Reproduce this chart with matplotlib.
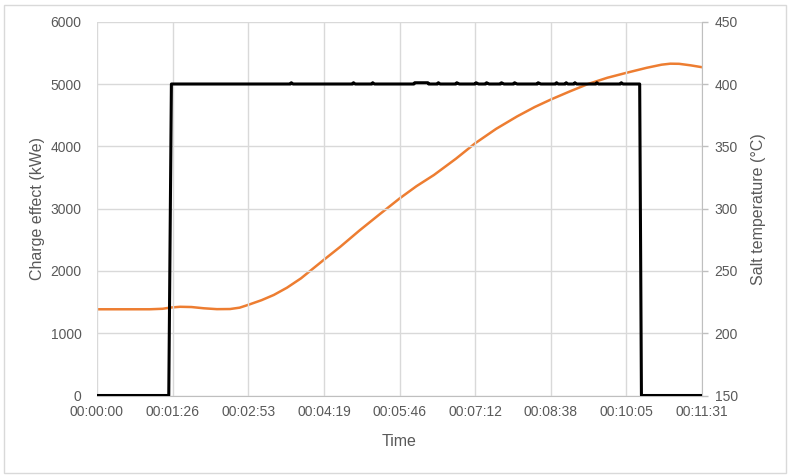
import numpy as np
import matplotlib
matplotlib.use("Agg")
import matplotlib.pyplot as plt
from matplotlib.patches import Rectangle

# charge effect (kWe) vs time in seconds
charge_t = [0, 82, 85, 221, 222, 224, 292, 293, 295, 314, 315, 317, 362, 363, 378, 379,
            389, 390, 392, 410, 411, 414, 432, 433, 436, 444, 445, 448, 461, 462, 465,
            476, 477, 480, 503, 504, 507, 524, 525, 527, 535, 536, 538, 545, 546, 548,
            570, 571, 573, 598, 599, 601, 620, 622, 691]
charge_kw = [0, 0, 5000, 5000, 5020, 5000, 5000, 5020, 5000, 5000, 5020, 5000, 5000, 5020, 5020, 5000,
             5000, 5020, 5000, 5000, 5020, 5000, 5000, 5020, 5000, 5000, 5020, 5000, 5000, 5020, 5000,
             5000, 5020, 5000, 5000, 5020, 5000, 5000, 5020, 5000, 5000, 5020, 5000, 5000, 5020, 5000,
             5000, 5020, 5000, 5000, 5020, 5000, 5000, 0, 0]

# salt temperature (degC) vs time in seconds
salt_t = [0, 20, 40, 60, 75, 84, 95, 108, 122, 137, 152, 163, 173, 188, 202, 217, 233,
          259, 278, 300, 323, 346, 365, 385, 410, 432, 456, 480, 500, 519, 540, 561,
          583, 605, 628, 645, 655, 665, 678, 691]
salt_temp = [219.2, 219.2, 219.2, 219.2, 219.6, 220.6, 221.2, 221.0, 220.0, 219.3, 219.4, 220.5,
             222.8, 226.5, 230.7, 236.5, 244.0, 258.8, 269.4, 282.5, 295.5, 308.3, 318.0, 327.0,
             340.0, 352.4, 364.0, 374.0, 381.5, 387.7, 394.0, 400.0, 405.0, 409.0, 413.0, 415.5,
             416.3, 416.2, 415.0, 413.5]

tick_secs = [0, 86.4, 172.8, 259.2, 345.6, 432.0, 518.4, 604.8, 691.2]
tick_labels = ["00:00:00", "00:01:26", "00:02:53", "00:04:19", "00:05:46",
               "00:07:12", "00:08:38", "00:10:05", "00:11:31"]

grey = "#595959"
grid = "#d9d9d9"
plt.rcParams['font.family'] = ['Liberation Sans', 'DejaVu Sans']

W, H = 789, 476
fig = plt.figure(figsize=(W / 100, H / 100), dpi=100)
ax = fig.add_axes([97 / W, 1 - 395.5 / H, 605 / W, 373.8 / H])
ax2 = ax.twinx()

ax.plot(charge_t, charge_kw, color="black", lw=2.2, zorder=3)
ax2.plot(salt_t, salt_temp, color="#ed7d31", lw=1.8, zorder=3)

ax.set_xlim(0, 691.2)
ax.set_ylim(0, 6000)
ax2.set_ylim(150, 450)
ax.set_xticks(tick_secs)
ax.set_xticklabels(tick_labels)
ax.set_yticks(np.arange(0, 6001, 1000))
ax2.set_yticks(np.arange(150, 451, 50))

ax.grid(True, color=grid, lw=1.0)
ax.set_axisbelow(True)
ax.set_zorder(ax2.get_zorder() + 1)
ax.patch.set_visible(False)

for s in ["top", "left", "right"]:
    ax.spines[s].set_visible(False)
for s in ["top", "left", "bottom"]:
    ax2.spines[s].set_visible(False)
ax.spines["bottom"].set_color("#bfbfbf")
ax2.spines["right"].set_color("#bfbfbf")

ax.tick_params(axis="x", length=0, pad=7, labelsize=10, labelcolor=grey)
ax.tick_params(axis="y", length=0, pad=11, labelsize=10, labelcolor=grey)
ax2.tick_params(axis="y", length=4, width=1, color="#bfbfbf", pad=5, labelsize=10, labelcolor=grey)

fig.text(37.5 / W, 1 - 209 / H, "Charge effect (kWe)", rotation=90, ha="center", va="center",
         fontsize=11.5, color=grey)
fig.text(758 / W, 1 - 209 / H, "Salt temperature (°C)", rotation=90, ha="center", va="center",
         fontsize=11.5, color=grey)
fig.text(399.5 / W, 1 - 441 / H, "Time", ha="center", va="center", fontsize=11.5, color=grey)

fig.patches.append(Rectangle((3.5 / W, 3.5 / H), 782 / W, 468 / H, transform=fig.transFigure,
                             fill=False, edgecolor=grid, lw=1.0))

fig.savefig("out.png", dpi=100)
